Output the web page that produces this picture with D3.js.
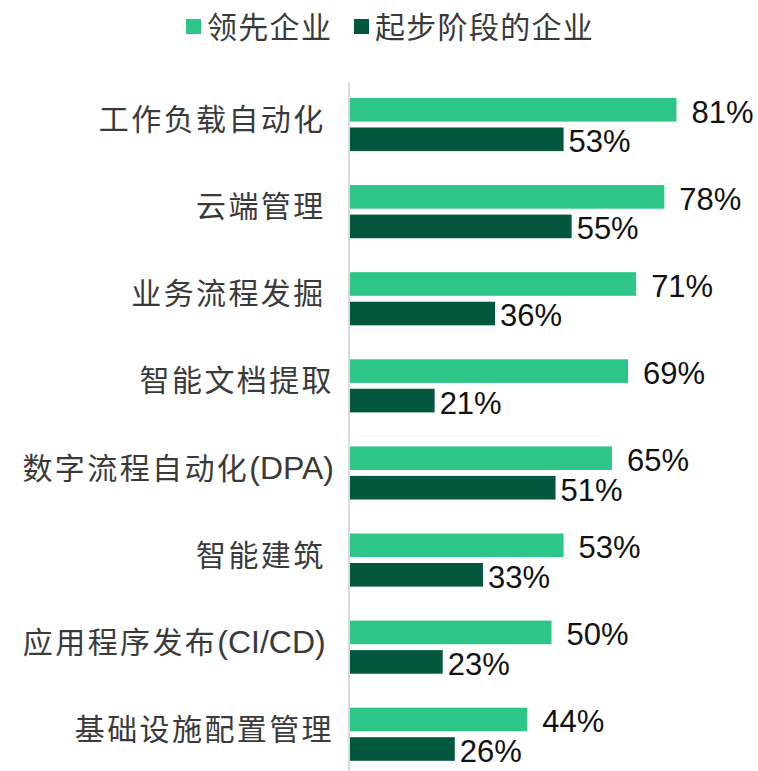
<!DOCTYPE html>
<html>
<head>
<meta charset="utf-8">
<script src="https://cdn.jsdelivr.net/npm/d3@7"></script>
<style>
  body { margin: 0; background: #fff; }
  svg { display: block; }
</style>
</head>
<body>
<svg id="chart"></svg>
<script>
// chart data
var categories = ["工作负载自动化 ", "云端管理 ", "业务流程发掘 ", "智能文档提取", "数字流程自动化(DPA)", "智能建筑 ", "应用程序发布(CI/CD) ", "基础设施配置管理"]
var leaders = [81, 78, 71, 69, 65, 53, 50, 44]
var beginners = [53, 55, 36, 21, 51, 33, 23, 26]
var seriesNames = ["领先企业", "起步阶段的企业"]
var seriesKeys = ["lead", "start"]

var dimensions = {
  width: 758,
  height: 771,
  margin: { top: 81, bottom: 0, right: 5, left: 350 }
}

var colors = { lead: "#2ec688", start: "#04573f" }
var labelFont = "'Liberation Sans', Arial, 'Noto Sans CJK SC', sans-serif"

var svg = d3.select("#chart")
  .attr("width", dimensions.width)
  .attr("height", dimensions.height)

var dataset = categories.map(function(c, i) {
  return { cat: c, lead: leaders[i], start: beginners[i] }
})

var xScale = d3.scaleLinear()
  .domain([0, 100])
  .range([dimensions.margin.left, dimensions.margin.left + 403])

var yScale = d3.scaleBand()
  .domain(categories)
  .range([dimensions.margin.top, dimensions.margin.top + 8 * 87.1])
  .paddingInner(0.39)
  .paddingOuter(0.195)

var subScale = d3.scaleBand()
  .domain(seriesKeys)
  .range([0, yScale.bandwidth()])
  .paddingInner(0.2)

// bars
var groups = svg.append("g")
  .selectAll("g")
  .data(dataset)
  .enter()
  .append("g")
  .attr("transform", d => `translate(0,${yScale(d.cat)})`)

groups.selectAll("rect")
  .data(d => seriesKeys.map(k => ({ key: k, value: d[k] })))
  .enter()
  .append("rect")
  .attr("x", xScale(0))
  .attr("y", d => subScale(d.key))
  .attr("width", d => xScale(d.value) - xScale(0))
  .attr("height", subScale.bandwidth())
  .attr("fill", d => colors[d.key])

// value labels
groups.selectAll("text")
  .data(d => seriesKeys.map(k => ({ key: k, value: d[k] })))
  .enter()
  .append("text")
  .attr("x", d => xScale(d.value) + (d.key == "lead" ? 15 : 5))
  .attr("y", d => subScale(d.key) + subScale.bandwidth() / 2 + 13)
  .style("font-family", labelFont)
  .style("font-size", "31px")
  .attr("fill", "#111")
  .text(d => d.value + "%")

// axis line
svg.append("line")
  .attr("x1", xScale(0) - 1)
  .attr("x2", xScale(0) - 1)
  .attr("y1", 82)
  .attr("y2", dimensions.height)
  .attr("stroke", "#d9d9d9")
  .attr("stroke-width", 2)

// category labels - chinese part spaced out a bit, latin part in brackets kept tight
var catLabels = svg.append("g")
  .selectAll("text")
  .data(categories)
  .enter()
  .append("text")
  .attr("x", 334)
  .attr("y", d => yScale(d) + yScale.bandwidth() / 2)
  .attr("dy", "0.35em")
  .attr("text-anchor", "end")
  .style("font-family", labelFont)
  .attr("fill", "#3a3a3a")
  .style("white-space", "pre")

catLabels.each(function(d) {
  var m = d.match(/^([^(\s]*)(\(.*\))?(\s*)$/)
  var t = d3.select(this)
  t.append("tspan")
    .style("font-size", "30px")
    .style("letter-spacing", "2.4px")
    .text(m[1])
  if (m[2]) {
    t.append("tspan")
      .style("font-size", "32px")
      .text(m[2])
  }
  if (m[3]) {
    t.append("tspan")
      .style("font-size", "30px")
      .text(m[3])
  }
})

// legend
var legendX = [186, 354]
var legend = svg.append("g")
  .selectAll("g")
  .data(seriesKeys)
  .enter()
  .append("g")
  .attr("transform", (d, i) => `translate(${legendX[i]},19)`)

legend.append("rect")
  .attr("width", 15)
  .attr("height", 15)
  .attr("fill", d => colors[d])

legend.append("text")
  .attr("x", 21)
  .attr("y", 8)
  .attr("dy", "0.35em")
  .style("font-family", labelFont)
  .style("font-size", "30px")
  .style("letter-spacing", "1.3px")
  .attr("fill", "#3a3a3a")
  .text((d, i) => seriesNames[i])
</script>
</body>
</html>
